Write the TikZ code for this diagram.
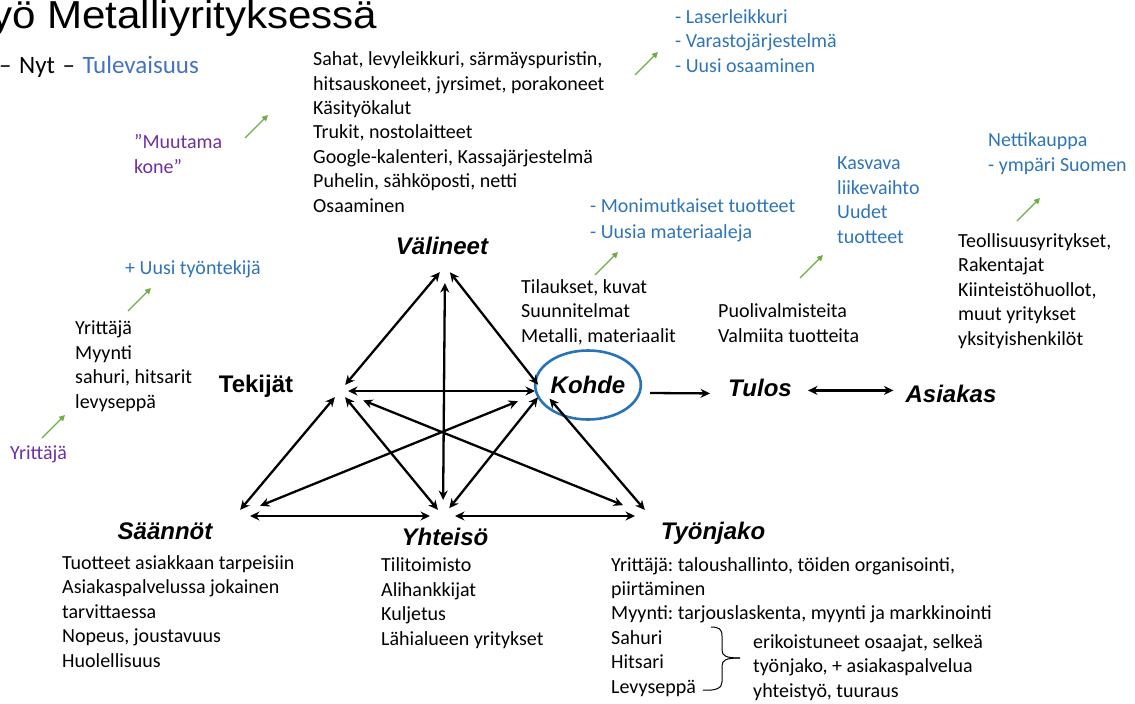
\documentclass[tikz,border=0pt]{standalone}
\usepackage{fontspec}
\setmainfont{Carlito}
\newfontfamily\arialfont{Liberation Sans}
\newfontfamily\titlefont[FakeStretch=1.08]{Liberation Sans}
\usepackage{tikz}
\usetikzlibrary{arrows.meta,positioning,shapes.geometric}

\definecolor{nowblue}{RGB}{46,117,182}
\definecolor{futblue}{RGB}{68,114,196}
\definecolor{pastviolet}{RGB}{112,48,160}
\definecolor{leafgreen}{RGB}{112,173,71}
\definecolor{ringblue}{RGB}{38,115,184}

\begin{document}
\frenchspacing
\begin{tikzpicture}[x=1pt, y=-1pt, >=Stealth,
    hdr/.style={font=\arialfont\fontsize{24}{28}\selectfont\bfseries\itshape, inner sep=0pt},
    lst/.style={font=\fontsize{20}{24.4}\selectfont, align=left, anchor=base west, inner sep=0pt},
    tri/.style={line width=2.3pt, >={Stealth[length=9.5pt,width=9pt]}},
    grn/.style={color=leafgreen, line width=1.3pt, ->, >={Triangle[length=6pt,width=6pt]}},
    ring/.style={ellipse, draw=ringblue, line width=2.6pt, minimum width=100pt, minimum height=69pt, inner sep=0pt}]
  \useasboundingbox (0,0) rectangle (1135,704);

  % otsikko
  \node[font=\titlefont\fontsize{39}{44}\selectfont, anchor=base west, inner sep=0pt] (title) at (-9,28) {yö Metalliyrityksessä};
  \node[font=\fontsize{25}{29}\selectfont, anchor=base west, inner sep=0pt] (aika) at (-1,73) {–\hspace{0.3em}Nyt\hspace{0.3em}–\hspace{0.3em}\textcolor{futblue}{Tulevaisuus}};

  % kolmion kulmat
  \node[hdr, anchor=base] (valineet) at (442,254) {Välineet};
  \node[hdr, anchor=base] (tekijat) at (256,392) {\upshape Tekijät};
  \node[hdr, ring] (kohde) at (588,385) {Kohde};
  \node[hdr, anchor=base] (tulos) at (760,396) {Tulos};
  \node[hdr, anchor=base] (asiakas) at (951,402) {Asiakas};
  \node[hdr, anchor=base] (saannot) at (165,539) {Säännöt};
  \node[hdr, anchor=base] (yhteiso) at (445,545) {Yhteisö};
  \node[hdr, anchor=base] (tyonjako) at (713,539) {Työnjako};

  \coordinate (cv) at (445,266);
  \coordinate (ct) at (340,391);
  \coordinate (ck) at (543,391);
  \coordinate (cs) at (235,516);
  \coordinate (cy) at (443,516);
  \coordinate (cj) at (650,516);

  \draw[tri, <->, shorten <=8pt, shorten >=8pt] (cv) -- (ct);
  \draw[tri, <->, shorten <=17pt, shorten >=16pt] (cv) -- (cy);
  \draw[tri, <->, shorten <=8pt, shorten >=8pt] (cv) -- (ck);
  \draw[tri, <->, shorten <=8pt, shorten >=8pt] (ct) -- (ck);
  \draw[tri, <->, shorten <=8pt, shorten >=8pt] (ct) -- (cs);
  \draw[tri, <->, shorten <=8pt, shorten >=8pt] (ct) -- (cy);
  \draw[tri, <->, shorten <=25pt, shorten >=29pt] (ct) -- (cj);
  \draw[tri, <->, shorten <=27pt, shorten >=27pt] (ck) -- (cs);
  \draw[tri, <->, shorten <=8pt, shorten >=10pt] (ck) -- (cy);
  \draw[tri, <->, shorten <=10pt, shorten >=8pt] (ck) -- (cj);
  \draw[tri, <->, shorten <=15pt, shorten >=13pt] (cs) -- (cy);
  \draw[tri, <->, shorten <=12pt, shorten >=15pt] (cy) -- (cj);

  \draw[tri, ->] ([shift={(8,8)}]kohde.east) -- ([shift={(-18,6)}]tulos.west);
  \draw[tri, <->] ([shift={(16,3)}]tulos.east) -- ([shift={(-12,-3)}]asiakas.west);

  % listat (base = viimeisen rivin perusviiva)
  \node[lst] (valineet-nyt) at (313,212) {Sahat, levyleikkuri, särmäyspuristin,\\hitsauskoneet, jyrsimet, porakoneet\\Käsityökalut\\Trukit, nostolaitteet\\Google-kalenteri, Kassajärjestelmä\\Puhelin, sähköposti, netti\\Osaaminen};
  \node[lst, nowblue] (valineet-tul) at (675,72) {- Laserleikkuri\\- Varastojärjestelmä\\- Uusi osaaminen};
  \node[lst, pastviolet] (valineet-ennen) at (134,173) {”Muutama\\kone”};
  \node[lst, nowblue] (tekijat-tul) at (125,274) {+ Uusi työntekijä};
  \node[lst] (tekijat-nyt) at (75,408) {Yrittäjä\\Myynti\\sahuri, hitsarit\\levyseppä};
  \node[lst, pastviolet] (tekijat-ennen) at (10,459) {Yrittäjä};
  \node[lst, nowblue, font=\fontsize{20}{26}\selectfont] (kohde-tul) at (590,238) {- Monimutkaiset tuotteet\\- Uusia materiaaleja};
  \node[lst] (kohde-nyt) at (521,342) {Tilaukset, kuvat\\Suunnitelmat\\Metalli, materiaalit};
  \node[lst] (tulos-nyt) at (718,342) {Puolivalmisteita\\Valmiita tuotteita};
  \node[lst, nowblue] (tulos-tul) at (837,243) {Kasvava\\liikevaihto\\Uudet\\tuotteet};
  \node[lst, nowblue] (asiakas-tul) at (988,171) {Nettikauppa\\- ympäri Suomen};
  \node[lst] (asiakas-nyt) at (958,345) {Teollisuusyritykset,\\Rakentajat\\Kiinteistöhuollot,\\muut yritykset\\yksityishenkilöt};
  \node[lst] (saannot-nyt) at (62,667) {Tuotteet asiakkaan tarpeisiin\\Asiakaspalvelussa jokainen\\tarvittaessa\\Nopeus, joustavuus\\Huolellisuus};
  \node[lst] (yhteiso-nyt) at (381,645) {Tilitoimisto\\Alihankkijat\\Kuljetus\\Lähialueen yritykset};
  \node[lst] (tyonjako-nyt) at (611,693) {Yrittäjä: taloushallinto, töiden organisointi,\\piirtäminen\\Myynti: tarjouslaskenta, myynti ja markkinointi\\Sahuri\\Hitsari\\Levyseppä};
  \node[lst] (tyonjako-huom) at (753,697) {erikoistuneet osaajat, selkeä\\työnjako, + asiakaspalvelua\\yhteistyö, tuuraus};

  % aaltosulje
  \draw[line width=1pt] (711,627) .. controls (719,627) and (722,629) .. (722,636) -- (722,650) .. controls (722,656) and (726,658) .. (740,658);
  \draw[line width=1pt] (740,658) .. controls (726,658) and (722,660) .. (722,666) -- (722,682) .. controls (722,688) and (716,691) .. (703,690);

  % vihreät nuolet
  \foreach \i/\x/\y in {1/635/75, 2/245/138, 3/128/311, 4/42/438, 5/595/275, 6/800/278, 7/1017/221} {
    \coordinate (g\i) at (\x,\y);
    \draw[grn] (g\i) -- ++(23,-23);
  }
\end{tikzpicture}
\end{document}
